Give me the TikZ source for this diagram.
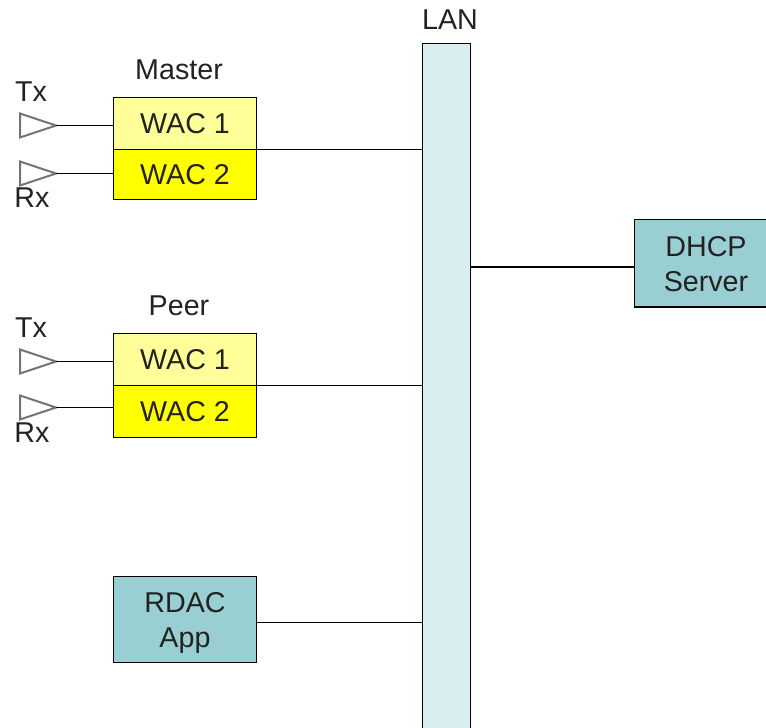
\documentclass[tikz,border=0pt]{standalone}
\usepackage{fontspec}
\setmainfont{Liberation Sans}
\definecolor{wacone}{HTML}{FFFF99}
\definecolor{wactwo}{HTML}{FFFF00}
\definecolor{lanfill}{HTML}{DAEDF1}
\definecolor{teal}{HTML}{99CFD2}
\definecolor{txtc}{HTML}{222222}
\tikzset{
  px/.style={x=0.75pt,y=-0.75pt},
  lbl/.style={inner sep=0pt,outer sep=0pt,text=txtc,font=\fontsize{21.5}{26}\selectfont,align=center},
  boxw/.style={lbl,draw=black,line width=1.4pt,minimum width=107.25pt,anchor=center},
  wacbox/.style={boxw,minimum height=39pt},
  tealbox/.style={boxw,fill=teal},
  wire/.style={draw=black,line width=1.4pt},
  ant/.style={draw=black!55,fill=white,line width=1.5pt,line join=miter},
}
\begin{document}
\begin{tikzpicture}[px]
\useasboundingbox (0,0) rectangle (766,727);
\clip (0,0) rectangle (766,727);
% LAN bus
\node[lbl,draw=black,line width=1.4pt,fill=lanfill,minimum width=36pt,minimum height=540pt,anchor=north west] (lan) at (422.5,43.5) {};
\node[lbl] (lanlabel) at (450,20) {LAN};
% DHCP
\node[tealbox,minimum height=65.6pt] (dhcp) at (706,263.25) {\rule{0pt}{16.5pt}DHCP\\Server};
% Master
\node[lbl] (master) at (179,70) {Master};
\node[wacbox,fill=wacone] (m1) at (185,123.5) {WAC 1};
\node[wacbox,fill=wactwo,minimum height=37.5pt] (m2) at (185,174.5) {WAC 2};
% Peer
\node[lbl] (peer) at (179,306) {Peer};
\node[wacbox,fill=wacone] (p1) at (185,359.5) {WAC 1};
\node[wacbox,fill=wactwo] (p2) at (185,411.5) {WAC 2};
% RDAC
\node[tealbox,minimum height=64.5pt] (rdac) at (185,619.5) {\rule{0pt}{20pt}RDAC\\App};
% connectors to LAN
\draw[wire] (m1.south east) -- (m1.south east -| lan.west);
\draw[wire] (p1.south east) -- (p1.south east -| lan.west);
\draw[wire] ([yshift=-2.25pt]rdac.east) -- ([yshift=-2.25pt]rdac.east -| lan.west);
\draw[wire] ([yshift=-2.8pt]dhcp.west) -- ([yshift=-2.8pt]dhcp.west -| lan.east);
% antennas
\foreach \n/\yy/\b in {a/125.5/m1,b/173.5/m2,c/361.5/p1,d/407.5/p2}{
  \coordinate (tip\n) at (56,\yy);
  \draw[ant] (tip\n) -- ++(-36,-12) -- ++(0,24) -- cycle;
  \draw[wire] (tip\n) -- (tip\n -| \b.west);
}
\node[lbl] (tx1) at (31,92) {Tx};
\node[lbl] (rx1) at (32,198) {Rx};
\node[lbl] (tx2) at (31,328) {Tx};
\node[lbl] (rx2) at (32,433) {Rx};
\end{tikzpicture}
\end{document}
